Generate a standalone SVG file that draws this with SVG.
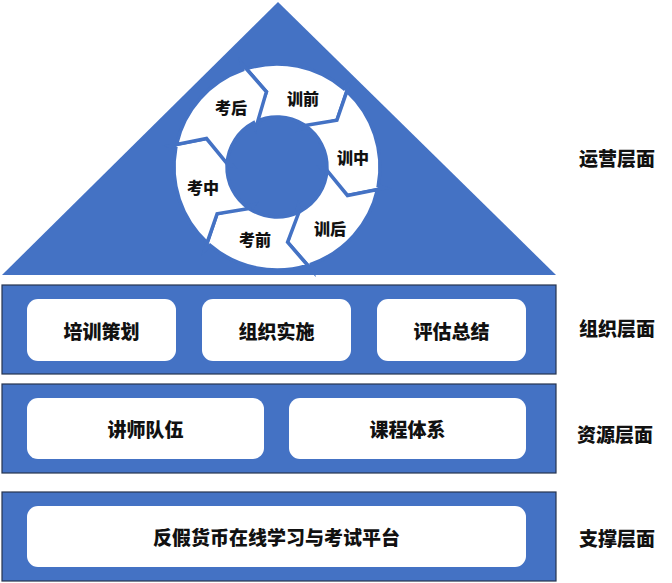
<svg xmlns="http://www.w3.org/2000/svg" width="672" height="583" viewBox="0 0 672 583">
<style>
.blue{fill:#4472C4}
.bar{fill:#4472C4;stroke:#26344f;stroke-width:1.2}
.box{fill:#ffffff}
.seg{fill:#ffffff;stroke:#4472C4;stroke-width:3.5;stroke-linejoin:miter}
text{font-family:"Noto Sans CJK SC","Microsoft YaHei",sans-serif;font-weight:900;fill:#111111;text-anchor:middle;dominant-baseline:central}
.t19{font-size:19px}
.t16{font-size:16px}
</style>
<rect x="0" y="0" width="672" height="583" fill="#ffffff"/>
<g id="layer-operation">
<polygon class="blue" points="2,275 278,2 556,275"/>
<g id="cycle">
<g id="seg-xunqian"><path class="seg" d="M246.37,68.66 A103,103 0 0 1 343.89,88.68 L349.17,83.98 L336.89,120.21 L299.66,129.28 L303.50,124.60 A50,50 0 0 0 254.93,122.13 L266.42,91.74 Z"/><text class="t16" x="303" y="98">训前</text></g>
<g id="seg-xunzhong"><path class="seg" d="M346.86,91.31 A103,103 0 0 1 378.28,185.77 L384.98,187.99 L347.47,195.47 L320.99,167.77 L326.97,168.75 A50,50 0 0 0 304.82,125.45 L336.89,120.21 Z"/><text class="t16" x="353" y="157">训中</text></g>
<g id="seg-xunhou"><path class="seg" d="M377.48,189.64 A103,103 0 0 1 311.38,264.09 L312.82,271.01 L287.58,242.26 L298.33,205.48 L300.47,211.15 A50,50 0 0 0 326.89,170.31 L347.47,195.47 Z"/><text class="t16" x="330" y="228">训后</text></g>
<g id="seg-kaoqian"><path class="seg" d="M307.63,265.34 A103,103 0 0 1 210.11,245.32 L204.83,250.02 L217.11,213.79 L254.34,204.72 L250.50,209.40 A50,50 0 0 0 299.07,211.87 L287.58,242.26 Z"/><text class="t16" x="255" y="239">考前</text></g>
<g id="seg-kaozhong"><path class="seg" d="M207.14,242.69 A103,103 0 0 1 175.72,148.23 L169.02,146.01 L206.53,138.53 L233.01,166.23 L227.03,165.25 A50,50 0 0 0 249.18,208.55 L217.11,213.79 Z"/><text class="t16" x="203" y="187">考中</text></g>
<g id="seg-kaohou"><path class="seg" d="M176.52,144.36 A103,103 0 0 1 242.62,69.91 L241.18,62.99 L266.42,91.74 L255.67,128.52 L253.53,122.85 A50,50 0 0 0 227.11,163.69 L206.53,138.53 Z"/><text class="t16" x="231" y="107">考后</text></g>
</g>
<text class="t19" x="617" y="157">运营层面</text>
</g>
<g id="layer-organization">
<rect class="bar" x="2" y="285" width="554" height="89"/>
<g id="node-plan"><rect class="box" x="27" y="299" width="149" height="62" rx="11"/><text class="t19" x="101.5" y="330">培训策划</text></g>
<g id="node-implement"><rect class="box" x="202" y="299" width="149" height="62" rx="11"/><text class="t19" x="276.5" y="330">组织实施</text></g>
<g id="node-evaluate"><rect class="box" x="377" y="299" width="149" height="62" rx="11"/><text class="t19" x="451.5" y="330">评估总结</text></g>
<text class="t19" x="617" y="327">组织层面</text>
</g>
<g id="layer-resource">
<rect class="bar" x="2" y="384" width="554" height="89"/>
<g id="node-teachers"><rect class="box" x="27" y="398" width="237" height="61" rx="11"/><text class="t19" x="145.5" y="428.5">讲师队伍</text></g>
<g id="node-courses"><rect class="box" x="289" y="398" width="237" height="61" rx="11"/><text class="t19" x="407.5" y="428.5">课程体系</text></g>
<text class="t19" x="615" y="433">资源层面</text>
</g>
<g id="layer-support">
<rect class="bar" x="2" y="492" width="554" height="89"/>
<g id="node-platform"><rect class="box" x="27" y="506" width="499" height="61" rx="11"/><text class="t19" x="276.5" y="536.5">反假货币在线学习与考试平台</text></g>
<text class="t19" x="617" y="537">支撑层面</text>
</g>
<g id="connectors"></g>
</svg>
